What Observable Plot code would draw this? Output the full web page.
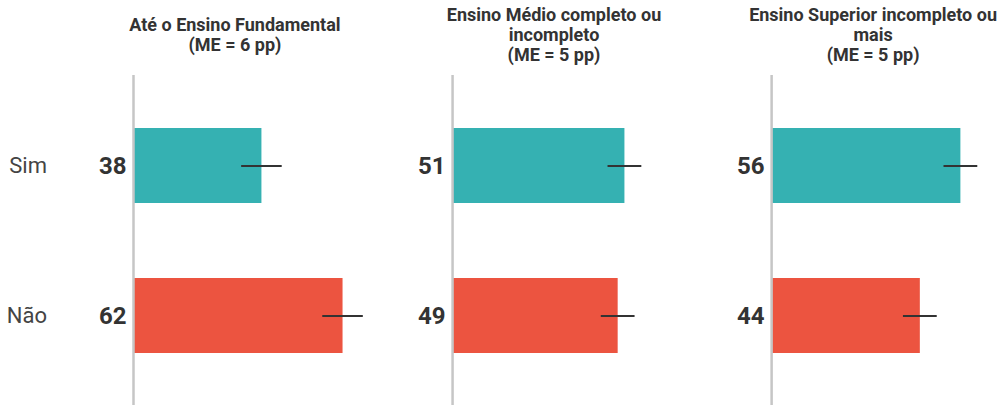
<!DOCTYPE html>
<html>
<head>
<meta charset="utf-8">
<script src="https://cdn.jsdelivr.net/npm/d3@7"></script>
<script src="https://cdn.jsdelivr.net/npm/@observablehq/plot@0.6"></script>
<style>
  html, body { margin: 0; padding: 0; background: #fff; }
  #chart { width: 1005px; height: 405px; }
</style>
</head>
<body>
<div id="chart"></div>
<script>
const groups = ["Até o Ensino Fundamental", "Ensino Médio completo ou\nincompleto", "Ensino Superior incompleto ou\nmais"];
const margins = [6, 5, 5];
const categories = ["Sim", "Não"];
const simValues = [38, 51, 56];
const naoValues = [62, 49, 44];
const colors = ["#35b1b2", "#ec5440"];

const data = [];
groups.forEach((g, i) => {
  data.push({group: g, cat: "Sim", value: simValues[i], me: margins[i]});
  data.push({group: g, cat: "Não", value: naoValues[i], me: margins[i]});
});
const titles = groups.map((g, i) => ({group: g, label: `${g}\n(ME = ${margins[i]} pp)`}));

const chart = Plot.plot({
  width: 1005,
  height: 405,
  marginLeft: 133,
  marginRight: 0,
  marginTop: 75,
  marginBottom: 0,
  style: {fontFamily: "Roboto, 'Noto Sans', sans-serif", background: "#fff"},
  fx: {domain: groups, axis: null, paddingInner: 0.267, paddingOuter: 0, round: false},
  x: {domain: [0, 69.2], axis: null},
  y: {domain: categories, paddingInner: 0.5, paddingOuter: 0.35, axis: null},
  color: {domain: categories, range: colors},
  marks: [
    Plot.barX(data, {fx: "group", y: "cat", x: "value", fill: "cat"}),
    Plot.ruleX([0], {stroke: "#c6c6c6", strokeWidth: 2.5}),
    Plot.ruleY(data, {fx: "group", y: "cat", x1: d => d.value - d.me, x2: d => d.value + d.me, stroke: "#333", strokeWidth: 2}),
    Plot.text(data, {fx: "group", y: "cat", x: 0, text: d => String(d.value), textAnchor: "end", dx: -7, fontSize: 24, fontWeight: "bold", fill: "#333"}),
    Plot.axisY({tickSize: 0, tickPadding: 86.5, fontSize: 22, color: "#444", label: null}),
    Plot.text(titles, {fx: "group", text: "label", frameAnchor: "top", dy: -41, dx: -15.5, lineAnchor: "middle", lineHeight: 1.1, fontSize: 18, fontWeight: "bold", fill: "#333"})
  ]
});
document.getElementById("chart").appendChild(chart);
</script>
</body>
</html>
